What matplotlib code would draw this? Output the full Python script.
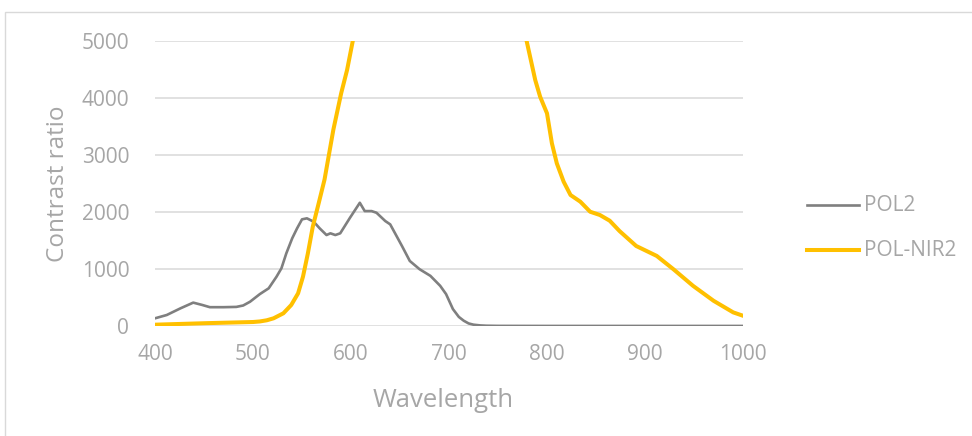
import matplotlib
matplotlib.use('Agg')
import matplotlib.pyplot as plt
from matplotlib.patches import Rectangle
from matplotlib.lines import Line2D

# POL2 (gray)
pol2_wl = [400, 412, 426, 439, 448, 456, 470, 483, 490, 497, 507, 516, 524, 529, 534, 540,
           545, 550, 555, 562, 568, 575, 579, 584, 589, 599, 609, 614, 621, 626, 635, 640,
           652, 660, 670, 681, 691, 697, 704, 710, 715, 720, 725, 732, 738, 750, 800, 900, 1000]
pol2_cr = [135, 193, 310, 410, 370, 330, 330, 335, 360, 426, 560, 661, 865, 1012, 1275, 1538,
           1714, 1871, 1889, 1829, 1714, 1596, 1626, 1596, 1626, 1900, 2162, 2016, 2016, 1987, 1841, 1783,
           1404, 1141, 996, 880, 705, 560, 297, 160, 93, 45, 23, 10, 5, 2, 1, 1, 1]

# POL-NIR2 (yellow)
nir_wl = [400, 453, 500, 507, 514, 521, 531, 539, 546, 551, 556, 561, 567, 573, 582, 590,
          596, 602, 610, 650, 700, 750, 770, 779, 788, 793, 800, 805, 810, 817, 824, 834,
          844, 854, 864, 874, 891, 912, 929, 949, 970, 990, 1000]
nir_cr = [23, 50, 70, 80, 100, 135, 223, 368, 573, 865, 1275, 1742, 2152, 2570, 3444, 4085,
          4492, 5017, 6500, 9000, 9500, 7500, 5900, 5017, 4315, 4022, 3731, 3205, 2854, 2531, 2298, 2181,
          2005, 1947, 1847, 1666, 1404, 1229, 996, 705, 442, 239, 180]

series = [('POL2', pol2_wl, pol2_cr, '#7F7F7F', 1.9),
          ('POL-NIR2', nir_wl, nir_cr, '#FFC000', 2.9)]

y_ticks = [0, 1000, 2000, 3000, 4000, 5000]
x_ticks = [400, 500, 600, 700, 800, 900, 1000]

txt = '#A6A6A6'
plt.rcParams['font.family'] = ['Open Sans', 'DejaVu Sans']

W, H = 972, 436
fig = plt.figure(figsize=(W / 100, H / 100), dpi=100)
fig.patches.append(Rectangle((5 / W, -0.01), 1.0, 1 - 12 / H + 0.01, transform=fig.transFigure,
                             facecolor='none', edgecolor='#D9D9D9', linewidth=1))

ax = fig.add_axes([155 / W, 1 - 326 / H, (743 - 155) / W, (326 - 41) / H])
ax.grid(axis='y', color='#D9D9D9', linewidth=1.1)
ax.set_axisbelow(True)

for name, xs, ys, c, lw in series:
    ax.plot(xs, ys, color=c, linewidth=lw, solid_joinstyle='round')

ax.set_xlim(400, 1000)
ax.set_ylim(0, 5000)
ax.set_yticks(y_ticks)
ax.set_xticks(x_ticks)
for s in ax.spines.values():
    s.set_visible(False)
ax.tick_params(axis='both', length=0, labelsize=15, labelcolor=txt)
ax.tick_params(axis='y', pad=18.5)
ax.tick_params(axis='x', pad=13)

fig.text(58 / W, 1 - 184 / H, 'Contrast ratio', rotation=90, color=txt, fontsize=17.5,
         ha='center', va='center')
fig.text(443 / W, 1 - 407 / H, 'Wavelength', color=txt, fontsize=18.5, ha='center', va='baseline')

# legend
for i, (name, xs, ys, c, lw) in enumerate(series):
    yy = 1 - (205.5 + 45 * i) / H
    fig.add_artist(Line2D([807 / W, 859 / W], [yy, yy], color=c, linewidth=lw,
                          transform=fig.transFigure))
    fig.text(864 / W, yy, name, color=txt, fontsize=15, ha='left', va='center')

fig.savefig('out.png', dpi=100)
